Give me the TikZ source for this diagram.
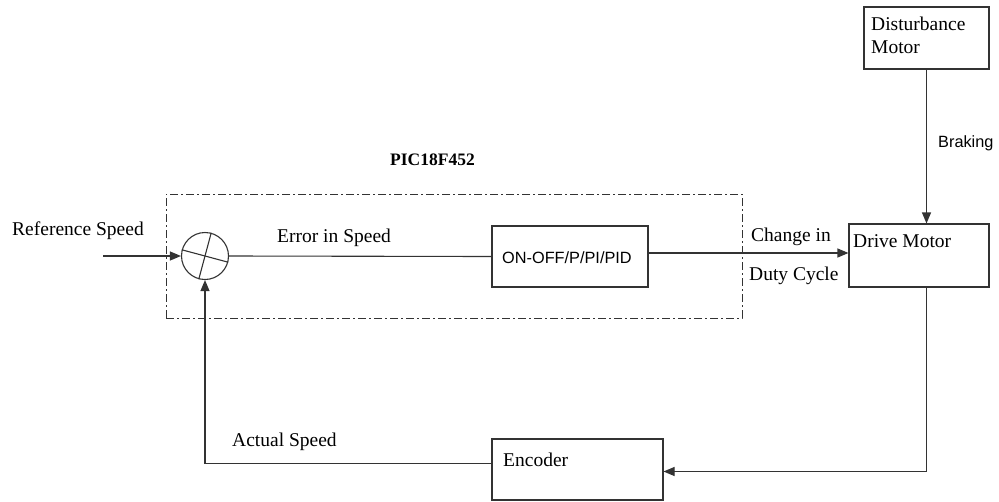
\documentclass[tikz,border=0pt]{standalone}
\usepackage{fontspec}
\setmainfont{Liberation Serif}
\newfontfamily\arialf{Liberation Sans}
\usetikzlibrary{arrows.meta}
\begin{document}
\begin{tikzpicture}[x=1pt,y=-1pt,
  ln/.style={line width=1.1pt,draw=black!80},
  arr/.style={ln,-{Triangle[length=11pt,width=9pt]}},
  blk/.style={ln,rectangle,inner sep=0pt},
  lbl/.style={inner sep=0pt,anchor=base west,font=\fontsize{19.5}{22}\selectfont},
  slbl/.style={inner sep=0pt,anchor=base west,font=\arialf\fontsize{16.3}{19}\selectfont},
  dashdot/.style={line width=0.9pt,draw=black!80,dash pattern=on 8pt off 3pt on 2pt off 3pt}
]
\useasboundingbox (0,0) rectangle (999,501);
% PIC dash-dot box
\node[dashdot,rectangle,minimum width=576pt,minimum height=124pt,inner sep=0pt] (pic) at (454,256) {};
\node[inner sep=0pt,anchor=base west,font=\bfseries\fontsize{17.5}{20}\selectfont] (pict) at (390,165) {PIC18F452};
% blocks
\node[ln,circle,minimum size=47pt,inner sep=0pt] (sum) at (205,256) {};
\draw[ln] (sum.165) -- (sum.-15);
\draw[ln] (sum.75) -- (sum.-105);
\node[blk,minimum width=156pt,minimum height=61pt] (ctrl) at (570,256.5) {};
\node[slbl] (ctrlt) at (502,263) {ON-OFF/P/PI/PID};
\node[blk,minimum width=140pt,minimum height=63pt] (drive) at (919,255.5) {};
\node[lbl] (drivet) at (853,247) {Drive Motor};
\node[blk,minimum width=125pt,minimum height=62pt] (dist) at (926.5,38) {};
\node[lbl] (distt1) at (871,30) {Disturbance};
\node[lbl] (distt2) at (871,53) {Motor};
\node[blk,minimum width=171pt,minimum height=61pt] (enc) at (577.5,469.5) {};
\node[lbl] (enct) at (503,466) {Encoder};
% labels
\node[lbl] (reft) at (12,235) {Reference Speed};
\node[lbl] (errt) at (277,242) {Error in Speed};
\node[lbl] (cht1) at (751,241) {Change in};
\node[lbl] (cht2) at (749,280) {Duty Cycle};
\node[slbl] (brk) at (938,147) {Braking};
\node[lbl] (actt) at (232,446) {Actual Speed};
% connectors
\coordinate (in) at (103,256);
\draw[arr] (in) -- (sum.west);
\draw[ln] (sum.east) -- (ctrl.west);
\draw[arr] ([yshift=3.5pt]ctrl.east) -- ([yshift=3.5pt]ctrl.east -| drive.west);
\draw[arr] (dist.south) -- (dist.south |- drive.north);
\draw[arr] (dist.south |- drive.south) |- ([yshift=-2pt]enc.east);
\draw[arr] ([yshift=6pt]enc.west) -| (sum.south);
\end{tikzpicture}
\end{document}
